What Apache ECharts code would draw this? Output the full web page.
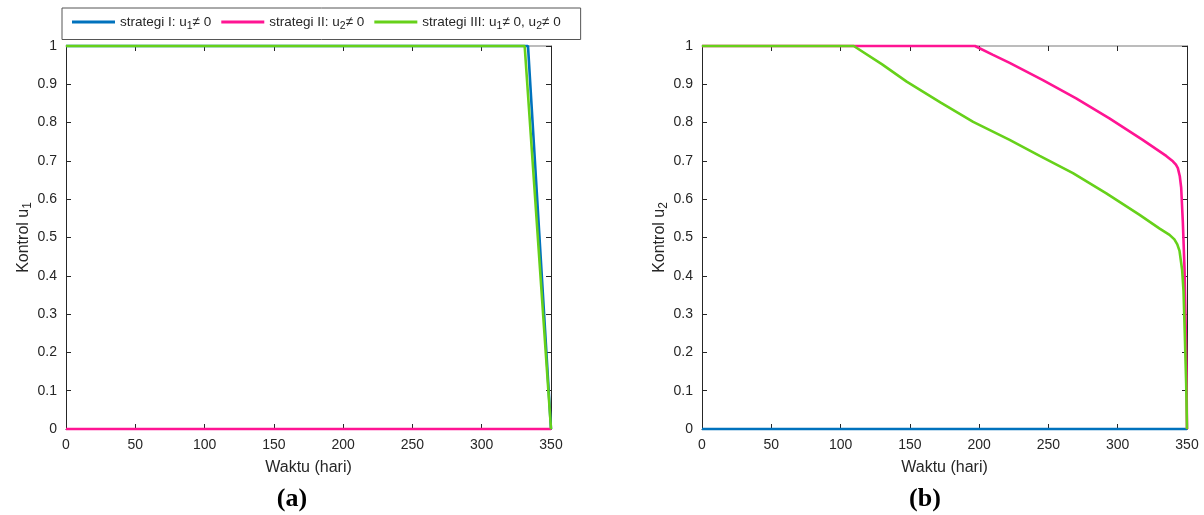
<!DOCTYPE html>
<html>
<head>
<meta charset="utf-8">
<script src="https://cdn.jsdelivr.net/npm/echarts@6/dist/echarts.min.js"></script>
<style>
  html, body { margin: 0; padding: 0; background: #fff; }
  #chart { width: 1204px; height: 515px; }
</style>
</head>
<body>
<div id="chart"></div>
<script>
// x ticks (hari) and y ticks
const xTicks = [0, 50, 100, 150, 200, 250, 300, 350];
const yTicks = [0, 0.1, 0.2, 0.3, 0.4, 0.5, 0.6, 0.7, 0.8, 0.9, 1];

const legendNames = ["strategi I", "strategi II", "strategi III"];

// panel (a): kontrol u1
const u1StratI = [[0, 1], [333.4, 1], [350, 0]];
const u1StratII = [[0, 0], [350, 0]];
const u1StratIII = [[0, 1], [331, 1], [350, 0]];

// panel (b): kontrol u2
const u2StratI = [[0, 0], [350, 0]];
const u2StratII = [
  [0, 1], [197, 1], [210, 0.977], [222, 0.956], [246, 0.911], [270, 0.863],
  [294, 0.811], [318, 0.755], [335, 0.713], [339.8, 0.699], [342, 0.69],
  [343.4, 0.681], [344.8, 0.66], [345.8, 0.63], [347, 0.54], [348.2, 0.42],
  [348.9, 0.3], [349.6, 0.15], [350, 0]
];
const u2StratIII = [
  [0, 1], [109.5, 1], [130, 0.952], [147.7, 0.907], [172, 0.853],
  [195.7, 0.802], [222, 0.755], [243.7, 0.713], [267.7, 0.668], [291.8, 0.615],
  [315.8, 0.559], [330, 0.524], [337.4, 0.507], [340.9, 0.495], [343, 0.482],
  [344.6, 0.465], [346.5, 0.415], [347.5, 0.36], [348.4, 0.25], [349.4, 0.12],
  [350, 0]
];

const colors = ["#0072bd", "#ff1493", "#66d11a"];
const font = "Liberation Sans, Arial, Helvetica, sans-serif";
const txt = "#262626";

const chart = echarts.init(document.getElementById("chart"));

const grids = [
  { left: 66, top: 46, width: 485, height: 383 },
  { left: 702, top: 46, width: 485, height: 383 },
];

let xAxis = [];
let yAxis = [];
grids.forEach((g, i) => {
  // bottom
  xAxis.push({
    type: "value", gridIndex: i, position: "bottom", min: 0, max: 350, interval: 50,
    name: "Waktu (hari)", nameLocation: "middle", nameGap: 31,
    nameTextStyle: { fontSize: 16, color: txt, fontFamily: font },
    axisLine: { onZero: false, lineStyle: { color: "#262626", width: 1 } },
    axisTick: { inside: true, length: 5, lineStyle: { color: "#262626" } },
    axisLabel: { fontSize: 14, color: txt, fontFamily: font, margin: 9 },
    splitLine: { show: false },
  });
  // top
  xAxis.push({
    type: "value", gridIndex: i, position: "top", min: 0, max: 350, interval: 50,
    axisLine: { onZero: false, lineStyle: { color: "#a6a6a6", width: 1.5 } },
    axisTick: { inside: true, length: 5, lineStyle: { color: "#262626" } },
    axisLabel: { show: false },
    splitLine: { show: false },
  });
  // left
  yAxis.push({
    type: "value", gridIndex: i, position: "left", min: 0, max: 1, interval: 0.1,
    name: "Kontrol u{s|" + (i + 1) + "}", nameLocation: "middle", nameGap: 32,
    nameTextStyle: { fontSize: 16, color: txt, fontFamily: font, rich: {
      s: { fontSize: 12, fontFamily: font, color: txt, padding: [9, 0, 0, 0] },
    } },
    axisLine: { show: true, onZero: false, lineStyle: { color: "#262626", width: 1 } },
    axisTick: { show: true, inside: true, length: 5, lineStyle: { color: "#262626" } },
    axisLabel: { fontSize: 14, color: txt, fontFamily: font, margin: 9 },
    splitLine: { show: false },
  });
  // right
  yAxis.push({
    type: "value", gridIndex: i, position: "right", min: 0, max: 1, interval: 0.1,
    axisLine: { show: true, onZero: false, lineStyle: { color: "#262626", width: 1 } },
    axisTick: { show: true, inside: true, length: 5, lineStyle: { color: "#262626" } },
    axisLabel: { show: false },
    splitLine: { show: false },
  });
});

function mkLine(name, data, color, gi) {
  return {
    type: "line", name: name, data: data,
    xAxisIndex: gi * 2, yAxisIndex: gi * 2,
    showSymbol: false, symbol: "none", clip: false, animation: false,
    lineStyle: { color: color, width: 2.6 },
    itemStyle: { color: color },
  };
}

const series = [
  mkLine(legendNames[0], u1StratI, colors[0], 0),
  mkLine(legendNames[1], u1StratII, colors[1], 0),
  mkLine(legendNames[2], u1StratIII, colors[2], 0),
  mkLine(legendNames[0], u2StratI, colors[0], 1),
  mkLine(legendNames[1], u2StratII, colors[1], 1),
  mkLine(legendNames[2], u2StratIII, colors[2], 1),
];

const legendLabel = {
  "strategi I": "strategi I: u{s|1}≠ 0",
  "strategi II": "strategi II: u{s|2}≠ 0",
  "strategi III": "strategi III: u{s|1}≠ 0, u{s|2}≠ 0",
};

const option = {
  animation: false,
  backgroundColor: "#fff",
  grid: grids,
  xAxis: xAxis,
  yAxis: yAxis,
  legend: {
    data: legendNames,
    left: 62, top: 8,
    padding: [7, 20, 8, 10],
    itemWidth: 43, itemHeight: 3, itemGap: 10,
    icon: "rect",
    borderColor: "#555", borderWidth: 1,
    backgroundColor: "#fff",
    formatter: (name) => legendLabel[name],
    textStyle: { fontSize: 13.5, color: txt, fontFamily: font, rich: {
      s: { fontSize: 10.5, fontFamily: font, color: txt, padding: [8, 0, 0, 0] },
    } },
  },
  title: [
    { text: "(a)", left: 287, top: 481, textAlign: "center",
      textStyle: { fontSize: 26, fontWeight: "bold", color: "#000", fontFamily: "Liberation Serif, Times New Roman, serif" } },
    { text: "(b)", left: 920, top: 481, textAlign: "center",
      textStyle: { fontSize: 26, fontWeight: "bold", color: "#000", fontFamily: "Liberation Serif, Times New Roman, serif" } },
  ],
  series: series,
};

chart.setOption(option);
</script>
</body>
</html>
